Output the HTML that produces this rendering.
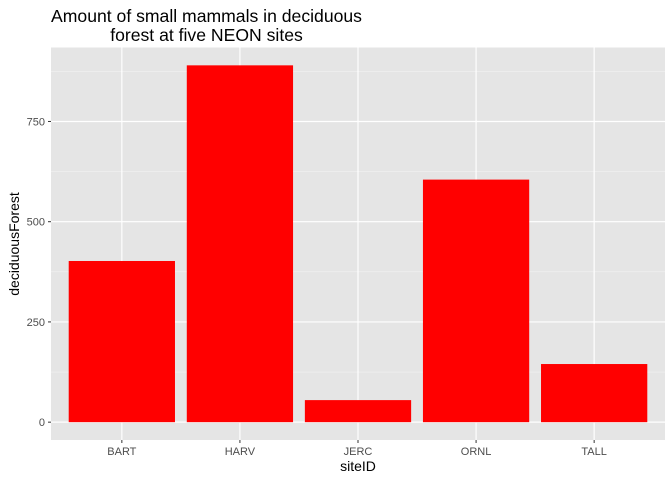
<!DOCTYPE html>
<html><head><meta charset="utf-8"><style>
body{margin:0;background:#fff;}
svg{display:block;font-family:"Liberation Sans",Arial,sans-serif;}
</style></head><body>
<svg id="chart" width="672" height="480">
<text x="206.5" y="22" font-size="17.6" text-anchor="middle" fill="#000"><tspan x="206.5">Amount of small mammals in deciduous</tspan><tspan x="206.5" dy="19">forest at five NEON sites</tspan></text>
<rect x="51" y="47.5" width="614" height="392.5" fill="#e5e5e5"/>
<g id="grid"></g><g id="bars"></g><g id="axes"></g>
<text x="358" y="471" font-size="14" text-anchor="middle" fill="#000">siteID</text>
<text transform="translate(19,244) rotate(-90)" font-size="14" text-anchor="middle" fill="#000">deciduousForest</text>
</svg>
<script>
const categories=["BART","HARV","JERC","ORNL","TALL"];
const values=[402,890,55,605,145];
const yTicks=[0,250,500,750];
const yMinor=[125,375,625,875];
const NS="http://www.w3.org/2000/svg";
const L=51,R=665,T=47.5,B=440;
const ymin=-44.5,ymax=934.5;
const y=v=>B-(v-ymin)/(ymax-ymin)*(B-T);
const step=(R-L)/(categories.length+0.2);
const x=i=>L+step*(0.6+i);
const bw=step*0.9;
function mk(tag,attrs,parent){const e=document.createElementNS(NS,tag);for(const k in attrs)e.setAttribute(k,attrs[k]);document.getElementById(parent).appendChild(e);return e;}
yMinor.forEach(v=>{const e=mk("line",{x1:L,x2:R,y1:y(v),y2:y(v),stroke:"#f2f2f2","stroke-width":0.6},"grid");

});
yTicks.forEach(v=>{const e=mk("line",{x1:L,x2:R,y1:y(v),y2:y(v),stroke:"#fff","stroke-width":1.2},"grid");


const t=mk("line",{x1:L-3,x2:L,y1:y(v),y2:y(v),stroke:"#333","stroke-width":1},"axes");


const l=mk("text",{x:L-6,y:y(v)+4,"font-size":11,"text-anchor":"end",fill:"#4d4d4d"},"axes");l.textContent=v;

});
categories.forEach((c,i)=>{const g=mk("line",{x1:x(i),x2:x(i),y1:T,y2:B,stroke:"#fff","stroke-width":1.2},"grid");


const b=mk("rect",{x:x(i)-bw/2,y:y(values[i]),width:bw,height:y(0)-y(values[i]),fill:"#ff0000"},"bars");


const t=mk("line",{x1:x(i),x2:x(i),y1:B,y2:B+3,stroke:"#333","stroke-width":1},"axes");


const l=mk("text",{x:x(i),y:B+15,"font-size":11,"text-anchor":"middle",fill:"#4d4d4d"},"axes");l.textContent=c;

});
</script>
</body></html>
